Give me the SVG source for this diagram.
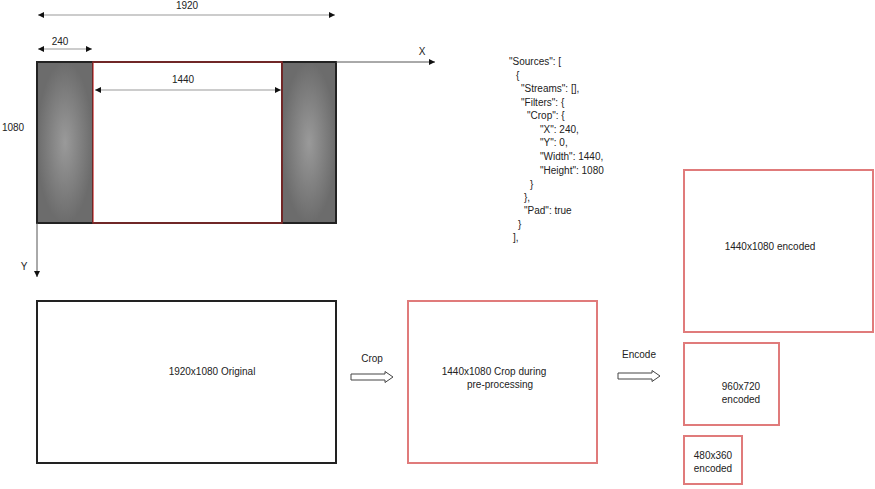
<svg xmlns="http://www.w3.org/2000/svg" width="875" height="489" viewBox="0 0 875 489">
<style>
text{font-family:"Liberation Sans","Open Sans",sans-serif;font-size:10px;fill:#222}
.c{text-anchor:middle}
.dim{stroke:#9a9a9a;stroke-width:1.2;fill:none}
.axis{stroke:#555;stroke-width:1;fill:none}
.blk{fill:#fff;stroke:#222;stroke-width:2}
.red{fill:#fff;stroke:#e07b7b;stroke-width:2}
.bar{fill:url(#g);stroke:#222;stroke-width:2}
.barrow{fill:#fff;stroke:#444;stroke-width:1}
</style>
<defs>
<radialGradient id="g" cx="50%" cy="50%" r="50%">
<stop offset="0" stop-color="#9a9a9a"/>
<stop offset="1" stop-color="#6c6c6c"/>
</radialGradient>
<marker id="ah" viewBox="0 0 10 10" refX="10" refY="5" markerWidth="6" markerHeight="6" orient="auto-start-reverse" markerUnits="userSpaceOnUse">
<path d="M0,0 L10,5 L0,10 z" fill="#111"/>
</marker>
</defs>

<g id="frame">
<rect x="37" y="62" width="299" height="161" fill="#fff" stroke="#222" stroke-width="2"/>
<rect class="bar" x="37" y="62" width="56" height="161"/>
<rect class="bar" x="282" y="62" width="54" height="161"/>
<rect x="93" y="62" width="189" height="161" fill="none" stroke="#8b2a2a" stroke-width="1.5"/>
<line x1="93.5" y1="63" x2="93.5" y2="222" stroke="#e07b7b" stroke-width="1"/>
</g>

<g id="connectors">
<line class="dim" x1="38" y1="15" x2="335" y2="15" marker-start="url(#ah)" marker-end="url(#ah)"/>
<line class="dim" x1="38" y1="49" x2="92" y2="49" marker-start="url(#ah)" marker-end="url(#ah)"/>
<line class="dim" x1="95" y1="90" x2="281" y2="90" marker-start="url(#ah)" marker-end="url(#ah)"/>
<line class="axis" x1="336" y1="62" x2="435" y2="62" marker-end="url(#ah)"/>
<line class="axis" x1="37" y1="223" x2="37" y2="277" marker-end="url(#ah)"/>
<path id="crop-arrow" class="barrow" d="M351,374 H385 V371.5 L393,377 L385,382.5 V380 H351 Z"/>
<path id="encode-arrow" class="barrow" d="M618,373 H652 V370.5 L660,376 L652,381.5 V379 H618 Z"/>
</g>

<g id="labels">
<text class="c" x="187" y="9">1920</text>
<text class="c" x="60" y="45">240</text>
<text class="c" x="183" y="83">1440</text>
<text class="c" x="13" y="131">1080</text>
<text class="c" x="422" y="55">X</text>
<text class="c" x="24" y="270">Y</text>
<text class="c" x="372" y="362">Crop</text>
<text class="c" x="639" y="358">Encode</text>
</g>

<g id="json" style="font-size:9.5px">
<text x="509" y="65">"Sources": [</text>
<text x="516" y="79">{</text>
<text x="521" y="92">"Streams": [],</text>
<text x="521" y="106">"Filters": {</text>
<text x="527" y="119">"Crop": {</text>
<text x="540" y="133">"X": 240,</text>
<text x="540" y="146">"Y": 0,</text>
<text x="540" y="160">"Width": 1440,</text>
<text x="540" y="174">"Height": 1080</text>
<text x="530" y="188">}</text>
<text x="524" y="201">},</text>
<text x="524" y="214">"Pad": true</text>
<text x="518" y="228">}</text>
<text x="513" y="241">],</text>
</g>

<g id="original">
<rect class="blk" x="37" y="301" width="299" height="162"/>
<text class="c" x="212" y="375">1920x1080 Original</text>
</g>

<g id="crop">
<rect class="red" x="408" y="301" width="189" height="162"/>
<text class="c" x="494" y="375">1440x1080 Crop during</text>
<text class="c" x="500" y="388">pre-processing</text>
</g>

<g id="enc1440">
<rect class="red" x="684" y="170" width="189" height="162"/>
<text class="c" x="770" y="250">1440x1080 encoded</text>
</g>

<g id="enc960">
<rect class="red" x="684" y="343" width="95" height="82"/>
<text class="c" x="741" y="390">960x720</text>
<text class="c" x="741" y="403">encoded</text>
</g>

<g id="enc480">
<rect class="red" x="684" y="436" width="58" height="48"/>
<text class="c" x="713" y="459">480x360</text>
<text class="c" x="713" y="472">encoded</text>
</g>
</svg>
